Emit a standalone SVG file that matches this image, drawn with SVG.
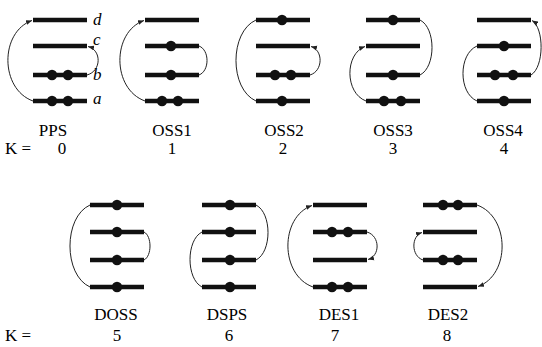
<svg xmlns="http://www.w3.org/2000/svg" width="542" height="347" viewBox="0 0 542 347">
<style>
.bar{stroke:#111;stroke-width:4.6;fill:none}
.dot{fill:#111}
.arc{stroke:#222;stroke-width:1;fill:none}
.arw{marker-end:url(#ah)}
.lab{text-anchor:middle}
.it{font-style:italic}
</style>
<defs>
<marker id="ah" markerUnits="userSpaceOnUse" markerWidth="8" markerHeight="6" refX="6" refY="3" orient="auto">
<path d="M0,0.6 L6,3 L0,5.4 Z" fill="#222"/>
</marker>
</defs>
<g id="connectors">
<path class="arc arw" d="M33,101 C-0.3,89 -0.3,32 32,20.5"/>
<path class="arc arw" d="M87,75 C101.7,71 101.7,50 88,46.5"/>
<path class="arc arw" d="M145,101 C111.7,89 111.7,32 144,20.5"/>
<path class="arc" d="M199,75 C209.7,71 209.7,50 199,46"/>
<path class="arc" d="M256,101 C229.3,89 229.3,32 256,20"/>
<path class="arc arw" d="M310,75 C323.3,71 323.3,50 311,46.5"/>
<path class="arc arw" d="M366,101 C344.7,93 344.7,54 365,46.5"/>
<path class="arc" d="M420,75 C436,67 436,28 420,20"/>
<path class="arc" d="M477,101 C458.3,93 458.3,54 477,46"/>
<path class="arc arw" d="M531,75 C544.3,67 544.3,28 532,20.5"/>
<path class="arc" d="M90,287 C63.3,275 63.3,217 90,205"/>
<path class="arc" d="M144,260 C152,256 152,236 144,232"/>
<path class="arc" d="M202,287 C186,279 186,240 202,232"/>
<path class="arc" d="M256,260 C272,252 272,213 256,205"/>
<path class="arc arw" d="M313,287 C279.7,275 279.7,217 312,205.5"/>
<path class="arc arw" d="M367,232 C380.3,236 380.3,256 368,259.5"/>
<path class="arc arw" d="M423,260 C411,256 411,236 422,232.5"/>
<path class="arc arw" d="M477,205 C510.3,217 510.3,275 478,286.5"/>
</g>
<g font-family="Liberation Serif, serif" font-size="17" fill="#000">
<g id="PPS">
<line class="bar" x1="33" y1="20" x2="87" y2="20"/>
<line class="bar" x1="33" y1="46" x2="87" y2="46"/>
<line class="bar" x1="33" y1="75" x2="87" y2="75"/>
<line class="bar" x1="33" y1="101" x2="87" y2="101"/>
<circle class="dot" cx="52" cy="75" r="5.2"/><circle class="dot" cx="68" cy="75" r="5.2"/>
<circle class="dot" cx="52" cy="101" r="5.2"/><circle class="dot" cx="68" cy="101" r="5.2"/>
<text class="it" x="93" y="25">d</text>
<text class="it" x="93" y="45">c</text>
<text class="it" x="93" y="80">b</text>
<text class="it" x="93" y="104">a</text>
<text class="lab" x="53" y="136">PPS</text>
<text x="5" y="154">K =</text>
<text class="lab" x="62" y="154">0</text>
</g>
<g id="OSS1">
<line class="bar" x1="145" y1="20" x2="199" y2="20"/>
<line class="bar" x1="145" y1="46" x2="199" y2="46"/>
<line class="bar" x1="145" y1="75" x2="199" y2="75"/>
<line class="bar" x1="145" y1="101" x2="199" y2="101"/>
<circle class="dot" cx="171" cy="46" r="5.2"/>
<circle class="dot" cx="171" cy="75" r="5.2"/>
<circle class="dot" cx="162" cy="101" r="5.2"/><circle class="dot" cx="178" cy="101" r="5.2"/>
<text class="lab" x="172" y="136">OSS1</text>
<text class="lab" x="172" y="154">1</text>
</g>
<g id="OSS2">
<line class="bar" x1="256" y1="20" x2="310" y2="20"/>
<line class="bar" x1="256" y1="46" x2="310" y2="46"/>
<line class="bar" x1="256" y1="75" x2="310" y2="75"/>
<line class="bar" x1="256" y1="101" x2="310" y2="101"/>
<circle class="dot" cx="282" cy="20" r="5.2"/>
<circle class="dot" cx="275" cy="75" r="5.2"/><circle class="dot" cx="291" cy="75" r="5.2"/>
<circle class="dot" cx="282" cy="101" r="5.2"/>
<text class="lab" x="284" y="136">OSS2</text>
<text class="lab" x="283" y="154">2</text>
</g>
<g id="OSS3">
<line class="bar" x1="366" y1="20" x2="420" y2="20"/>
<line class="bar" x1="366" y1="46" x2="420" y2="46"/>
<line class="bar" x1="366" y1="75" x2="420" y2="75"/>
<line class="bar" x1="366" y1="101" x2="420" y2="101"/>
<circle class="dot" cx="393" cy="20" r="5.2"/>
<circle class="dot" cx="393" cy="75" r="5.2"/>
<circle class="dot" cx="384" cy="101" r="5.2"/><circle class="dot" cx="401" cy="101" r="5.2"/>
<text class="lab" x="393" y="136">OSS3</text>
<text class="lab" x="393" y="154">3</text>
</g>
<g id="OSS4">
<line class="bar" x1="477" y1="20" x2="531" y2="20"/>
<line class="bar" x1="477" y1="46" x2="531" y2="46"/>
<line class="bar" x1="477" y1="75" x2="531" y2="75"/>
<line class="bar" x1="477" y1="101" x2="531" y2="101"/>
<circle class="dot" cx="504" cy="46" r="5.2"/>
<circle class="dot" cx="495" cy="75" r="5.2"/><circle class="dot" cx="513" cy="75" r="5.2"/>
<circle class="dot" cx="504" cy="101" r="5.2"/>
<text class="lab" x="503" y="136">OSS4</text>
<text class="lab" x="504" y="154">4</text>
</g>
<g id="DOSS">
<line class="bar" x1="90" y1="205" x2="144" y2="205"/>
<line class="bar" x1="90" y1="232" x2="144" y2="232"/>
<line class="bar" x1="90" y1="260" x2="144" y2="260"/>
<line class="bar" x1="90" y1="287" x2="144" y2="287"/>
<circle class="dot" cx="117" cy="205" r="5.2"/>
<circle class="dot" cx="117" cy="232" r="5.2"/>
<circle class="dot" cx="117" cy="260" r="5.2"/>
<circle class="dot" cx="117" cy="287" r="5.2"/>
<text class="lab" x="116" y="320">DOSS</text>
<text x="5" y="341">K =</text>
<text class="lab" x="117" y="341">5</text>
</g>
<g id="DSPS">
<line class="bar" x1="202" y1="205" x2="256" y2="205"/>
<line class="bar" x1="202" y1="232" x2="256" y2="232"/>
<line class="bar" x1="202" y1="260" x2="256" y2="260"/>
<line class="bar" x1="202" y1="287" x2="256" y2="287"/>
<circle class="dot" cx="230" cy="205" r="5.2"/>
<circle class="dot" cx="230" cy="232" r="5.2"/>
<circle class="dot" cx="230" cy="260" r="5.2"/>
<circle class="dot" cx="230" cy="287" r="5.2"/>
<text class="lab" x="227" y="320">DSPS</text>
<text class="lab" x="229" y="341">6</text>
</g>
<g id="DES1">
<line class="bar" x1="313" y1="205" x2="367" y2="205"/>
<line class="bar" x1="313" y1="232" x2="367" y2="232"/>
<line class="bar" x1="313" y1="260" x2="367" y2="260"/>
<line class="bar" x1="313" y1="287" x2="367" y2="287"/>
<circle class="dot" cx="332" cy="232" r="5.2"/><circle class="dot" cx="348" cy="232" r="5.2"/>
<circle class="dot" cx="332" cy="287" r="5.2"/><circle class="dot" cx="348" cy="287" r="5.2"/>
<text class="lab" x="339" y="320">DES1</text>
<text class="lab" x="335" y="341">7</text>
</g>
<g id="DES2">
<line class="bar" x1="423" y1="205" x2="477" y2="205"/>
<line class="bar" x1="423" y1="232" x2="477" y2="232"/>
<line class="bar" x1="423" y1="260" x2="477" y2="260"/>
<line class="bar" x1="423" y1="287" x2="477" y2="287"/>
<circle class="dot" cx="443" cy="205" r="5.2"/><circle class="dot" cx="458" cy="205" r="5.2"/>
<circle class="dot" cx="443" cy="260" r="5.2"/><circle class="dot" cx="458" cy="260" r="5.2"/>
<text class="lab" x="448" y="320">DES2</text>
<text class="lab" x="447" y="341">8</text>
</g>
</g>
</svg>
